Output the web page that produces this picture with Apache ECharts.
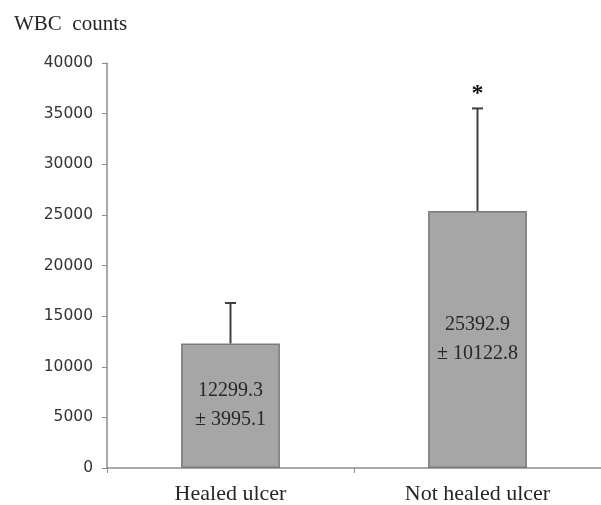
<!DOCTYPE html>
<html>
<head>
<meta charset="utf-8">
<script src="https://cdn.jsdelivr.net/npm/echarts@6/dist/echarts.min.js"></script>
<style>html,body{margin:0;padding:0;background:#fff;}#c{width:601px;height:505px;}</style>
</head>
<body>
<div id="c"></div>
<script>
var categories = ['Healed ulcer', 'Not healed ulcer'];
var means = [12299.3, 25392.9];
var sds = [3995.1, 10122.8];
var significance = ['', '*'];
var yTicks = [0, 5000, 10000, 15000, 20000, 25000, 30000, 35000, 40000];

var chart = echarts.init(document.getElementById('c'));
var serif = '"Liberation Serif", "Times New Roman", serif';
var errData = means.map(function (m, i) { return [i, m, m + sds[i], significance[i]]; });

chart.setOption({
  animation: false,
  grid: { left: 107, right: 0, top: 63, bottom: 37, containLabel: false },
  title: {
    text: 'WBC  counts', left: 9, top: 9,
    textStyle: { fontFamily: serif, fontSize: 21, fontWeight: 'normal', color: '#262626' }
  },
  xAxis: {
    type: 'category', data: categories, boundaryGap: true,
    axisLine: { lineStyle: { color: '#8c8c8c', width: 1.5 } },
    axisTick: { show: true, alignWithLabel: false, length: 5, lineStyle: { color: '#8c8c8c' } },
    axisLabel: { fontFamily: serif, fontSize: 22, color: '#262626', margin: 15 }
  },
  yAxis: {
    type: 'value', min: yTicks[0], max: yTicks[yTicks.length - 1], interval: 5000,
    splitLine: { show: false },
    axisLine: { show: true, lineStyle: { color: '#8c8c8c', width: 1.5 } },
    axisTick: { show: true, length: 5, lineStyle: { color: '#8c8c8c' } },
    axisLabel: {
      fontFamily: '"DejaVu Sans", sans-serif', fontSize: 15.5, color: '#333', margin: 14,
      formatter: function (v) { return String(v); }
    }
  },
  series: [
    {
      type: 'bar', data: means, barWidth: '40%',
      itemStyle: { color: '#a6a6a6', borderColor: '#7a7a7a', borderWidth: 1.5 },
      label: {
        show: true, position: 'inside', fontFamily: serif, fontSize: 20, lineHeight: 29,
        color: '#262626',
        formatter: function (p) { return p.value + '\n\u00b1 ' + sds[p.dataIndex]; }
      },
      z: 2
    },
    {
      type: 'custom', data: errData, z: 3,
      renderItem: function (params, api) {
        var base = api.coord([api.value(0), api.value(1)]);
        var top = api.coord([api.value(0), api.value(2)]);
        var hw = 5.5;
        var children = [
          { type: 'line', shape: { x1: base[0], y1: base[1], x2: top[0], y2: top[1] }, style: { stroke: '#404040', lineWidth: 2 } },
          { type: 'line', shape: { x1: top[0] - hw, y1: top[1], x2: top[0] + hw, y2: top[1] }, style: { stroke: '#404040', lineWidth: 2 } }
        ];
        var sig = errData[params.dataIndex][3];
        if (sig) {
          children.push({ type: 'text', x: top[0], y: top[1] - 15, style: { text: sig, fontFamily: serif, fontSize: 24, fontWeight: 'bold', fill: '#111', align: 'center', verticalAlign: 'middle' } });
        }
        return { type: 'group', children: children };
      }
    }
  ]
});
</script>
</body>
</html>
